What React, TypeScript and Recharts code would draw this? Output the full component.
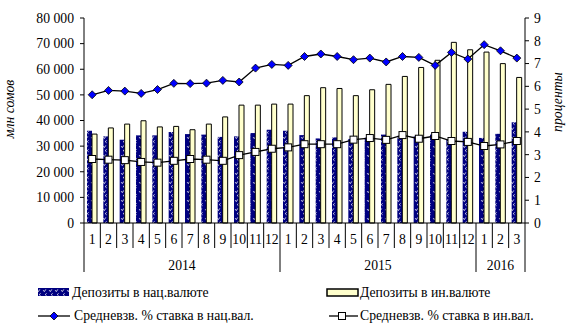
import React from "react";
import { ComposedChart, Bar, Line, XAxis, YAxis } from "recharts";

// months shown on the lower axis, grouped by year
const monthLabels = [
  "1", "2", "3", "4", "5", "6", "7", "8", "9", "10", "11", "12",
  "1", "2", "3", "4", "5", "6", "7", "8", "9", "10", "11", "12",
  "1", "2", "3",
];
const yearGroups: [string, number][] = [
  ["2014", 12],
  ["2015", 12],
  ["2016", 3],
];

// deposits, mln som
const depositsNat = [
  36000, 33800, 32500, 34200, 34200, 35500, 34700, 34500, 33600, 33800, 35100, 36400,
  36000, 34300, 33000, 33400, 32800, 33300, 34500, 34000, 33800, 34500, 32500, 35600,
  33200, 34800, 39300,
];
const depositsForeign = [
  34700, 37100, 38600, 39900, 37500, 37700, 36400, 38600, 41400, 46000, 46000, 46400,
  46400, 49700, 52800, 52500, 49700, 52000, 54100, 57200, 60700, 63500, 70500, 67600,
  66700, 62200, 56800,
];

// weighted average rates, %
const rateNat = [
  5.63, 5.82, 5.79, 5.69, 5.86, 6.13, 6.12, 6.14, 6.26, 6.19, 6.8, 6.96,
  6.92, 7.31, 7.42, 7.31, 7.17, 7.24, 7.07, 7.31, 7.27, 6.92, 7.49, 7.2,
  7.83, 7.56, 7.24,
];
const rateForeign = [
  2.81, 2.78, 2.76, 2.68, 2.65, 2.73, 2.81, 2.78, 2.73, 2.98, 3.12, 3.26,
  3.32, 3.46, 3.46, 3.46, 3.66, 3.73, 3.65, 3.86, 3.7, 3.82, 3.6, 3.56,
  3.38, 3.45, 3.6,
];

const leftTicks = [0, 10000, 20000, 30000, 40000, 50000, 60000, 70000, 80000];
const rightTicks = [0, 1, 2, 3, 4, 5, 6, 7, 8, 9];

const W = 568;
const H = 323;
const LEFT_W = 84;
const RIGHT_W = 43;
const BAND = (W - LEFT_W - RIGHT_W) / monthLabels.length;
const FONT = "'Liberation Serif', 'Times New Roman', serif";
const FS = 13.7;

const yearOf: string[] = [];
const yearStart: number[] = [];
yearGroups.forEach(([y, n]) => {
  yearStart.push(yearOf.length);
  for (let i = 0; i < n; i++) yearOf.push(y);
});

const data = monthLabels.map((m, i) => ({
  key: `${yearOf[i]}-${m}`,
  month: m,
  nat: depositsNat[i],
  foreign: depositsForeign[i],
  natRate: rateNat[i],
  foreignRate: rateForeign[i],
}));

const fmtThousands = (v: number) =>
  v === 0 ? "0" : `${Math.floor(v / 1000)} 000`;

const MonthTick = (props: any) => {
  const { x, y, index } = props;
  const gi = yearStart.indexOf(index);
  const isLast = index === monthLabels.length - 1;
  const left = x - BAND / 2;
  let yearLabel = null;
  if (gi >= 0) {
    const n = yearGroups[gi][1];
    const cx = left + (n * BAND) / 2;
    yearLabel = (
      <text x={cx} y={y + 47} textAnchor="middle" fontSize={FS} fontFamily={FONT} fill="#000">
        {yearGroups[gi][0]}
      </text>
    );
  }
  return (
    <g>
      <line x1={left} y1={y} x2={left} y2={y + (gi >= 0 ? 49 : 25)} stroke="#000" />
      {isLast && (
        <line x1={x + BAND / 2} y1={y} x2={x + BAND / 2} y2={y + 49} stroke="#000" />
      )}
      <text x={x} y={y + 21} textAnchor="middle" fontSize={FS} fontFamily={FONT} fill="#000">
        {monthLabels[index]}
      </text>
      {yearLabel}
    </g>
  );
};

const Diamond = (props: any) => {
  const { cx, cy } = props;
  if (cx == null || cy == null) return null;
  const r = 4;
  return (
    <polygon
      points={`${cx},${cy - r} ${cx + r},${cy} ${cx},${cy + r} ${cx - r},${cy}`}
      fill="#0000ff"
      stroke="#000"
      strokeWidth={0.8}
    />
  );
};

const Square = (props: any) => {
  const { cx, cy } = props;
  if (cx == null || cy == null) return null;
  return (
    <rect x={cx - 3.5} y={cy - 3.5} width={7} height={7} fill="#fff" stroke="#000" strokeWidth={1} />
  );
};

const textStyle = { fontSize: FS, fontFamily: FONT, fill: "#000" };

// axis titles and legend, drawn over the chart
function Overlay() {
  return (
    <svg
      width={W}
      height={H}
      style={{ position: "absolute", left: 0, top: 0, pointerEvents: "none" }}
    >
      <text x={14} y={109} transform="rotate(-90 14 109)" textAnchor="middle" fontStyle="italic" {...textStyle}>
        млн сомов
      </text>
      <text x={562} y={102} transform="rotate(-90 562 102)" textAnchor="middle" fontStyle="italic" {...textStyle}>
        проценты
      </text>

      <rect x={38} y={288} width={31} height={8} fill="url(#natPattern)" />
      <text x={72} y={297} {...textStyle}>Депозиты в нац.валюте</text>
      <rect x={327} y={289} width={31} height={7} fill="#ffffcc" stroke="#000" strokeWidth={1.5} />
      <text x={360} y={297} {...textStyle}>Депозиты в ин.валюте</text>

      <line x1={38} y1={316} x2={70} y2={316} stroke="#000" strokeWidth={1.3} />
      <Diamond cx={54} cy={316} />
      <text x={74} y={320} {...textStyle}>Средневзв. % ставка в нац.вал.</text>
      <line x1={329} y1={316} x2={358} y2={316} stroke="#000" strokeWidth={1.3} />
      <Square cx={342} cy={316} />
      <text x={360} y={320} {...textStyle}>Средневзв. % ставка в ин.вал.</text>
    </svg>
  );
}

export default function App() {
  return (
    <div style={{ width: W, height: H, position: "relative", background: "#fff" }}>
      <style>{"html,body{margin:0;padding:0;overflow:hidden}"}</style>
      <ComposedChart
        width={W}
        height={H}
        data={data}
        margin={{ top: 18, right: 0, left: 0, bottom: 50 }}
        barGap={0}
      >
        <defs>
          <pattern id="natPattern" width="6" height="9" patternUnits="userSpaceOnUse">
            <rect width="6" height="9" fill="#000080" />
            <path d="M1.2 2.2 L2.3 3.6 L3.8 1.4" stroke="#fff" strokeWidth={0.8} fill="none" />
            <path d="M4.6 5.4 L3.2 6.6 L4.6 7.8" stroke="#fff" strokeWidth={0.8} fill="none" />
          </pattern>
        </defs>
        <XAxis
          dataKey="key"
          height={50}
          interval={0}
          tickSize={0}
          tickMargin={0}
          tickLine={false}
          axisLine={{ stroke: "#000" }}
          tick={<MonthTick />}
        />
        <YAxis
          yAxisId="left"
          width={LEFT_W}
          domain={[0, 80000]}
          ticks={leftTicks}
          interval={0}
          tickFormatter={fmtThousands}
          tickSize={4}
          tickMargin={6}
          axisLine={{ stroke: "#000" }}
          tickLine={{ stroke: "#000" }}
          tick={{ fill: "#000", fontSize: FS, fontFamily: FONT }}
        />
        <YAxis
          yAxisId="right"
          orientation="right"
          width={RIGHT_W}
          domain={[0, 9]}
          ticks={rightTicks}
          interval={0}
          tickSize={4}
          tickMargin={5}
          axisLine={{ stroke: "#000" }}
          tickLine={{ stroke: "#000" }}
          tick={{ fill: "#000", fontSize: FS, fontFamily: FONT }}
        />
        <Bar
          yAxisId="left"
          dataKey="nat"
          barSize={5}
          fill="url(#natPattern)"
          isAnimationActive={false}
        />
        <Bar
          yAxisId="left"
          dataKey="foreign"
          barSize={5}
          fill="#ffffcc"
          stroke="#000"
          strokeWidth={1}
          isAnimationActive={false}
        />
        <Line
          yAxisId="right"
          dataKey="natRate"
          type="linear"
          stroke="#000"
          strokeWidth={1.3}
          dot={<Diamond />}
          activeDot={false}
          isAnimationActive={false}
        />
        <Line
          yAxisId="right"
          dataKey="foreignRate"
          type="linear"
          stroke="#000"
          strokeWidth={1.3}
          dot={<Square />}
          activeDot={false}
          isAnimationActive={false}
        />
      </ComposedChart>
      <Overlay />
    </div>
  );
}
